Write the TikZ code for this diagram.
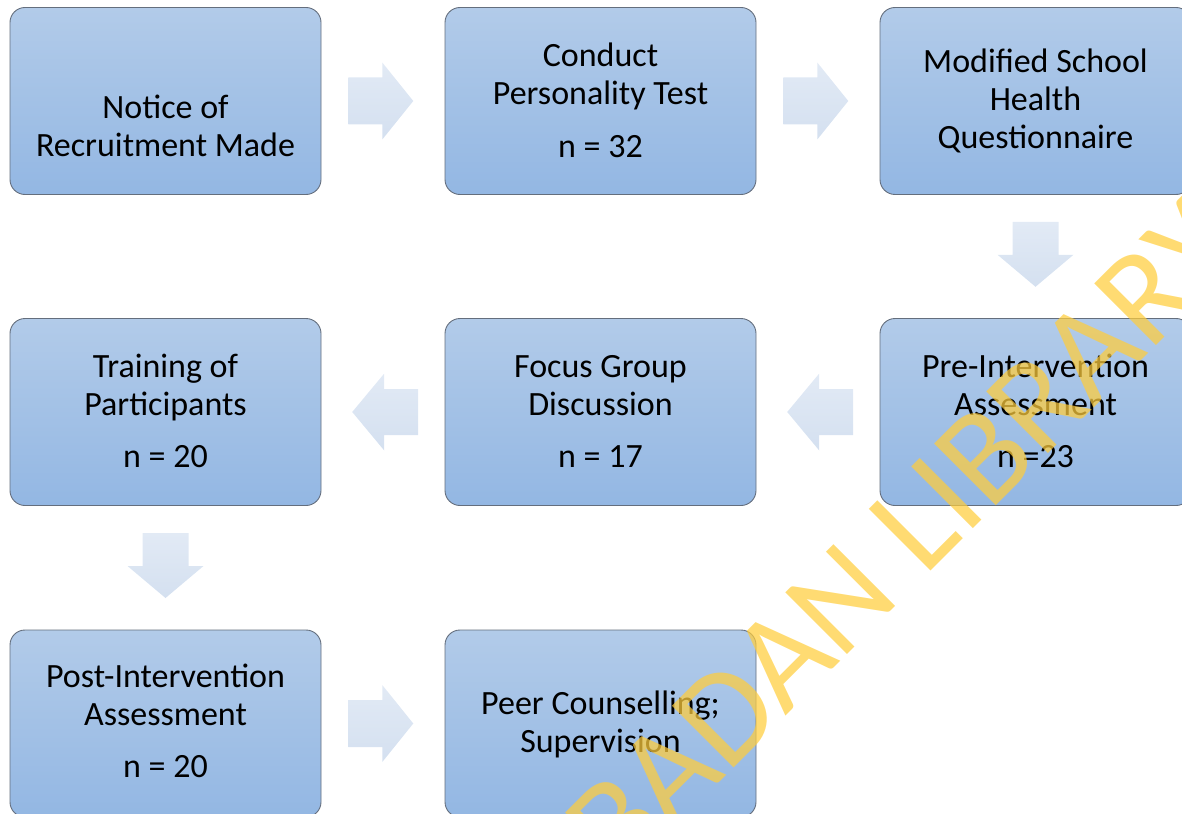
\documentclass[tikz,border=0pt]{standalone}
\usepackage{fontspec}
\setmainfont{Carlito}
\usetikzlibrary{calc}
\definecolor{boxtop}{RGB}{178,203,233}
\definecolor{boxbot}{RGB}{147,183,227}
\definecolor{boxline}{RGB}{100,110,125}
\definecolor{arrtop}{RGB}{226,234,245}
\definecolor{arrbot}{RGB}{212,224,240}
\definecolor{wmark}{RGB}{255,205,60}
\begin{document}
\begin{tikzpicture}[x=1pt,y=-1pt,
  stepbox/.style={draw=boxline, line width=0.9pt, rounded corners=15pt,
    top color=boxtop, bottom color=boxbot,
    minimum width=311pt, minimum height=187pt, inner sep=0pt, outer sep=0pt},
  boxtext/.style={anchor=north, inner sep=0pt, align=center,
    font=\fontsize{34}{38}\selectfont, text=black},
  arrshade/.style={top color=arrtop, bottom color=arrbot, draw=none},
  rarr/.pic={\shade[arrshade] (-32.5,-23.5) -- (1.5,-23.5) -- (1.5,-38.5) -- (32.5,0)
      -- (1.5,38.5) -- (1.5,23.5) -- (-32.5,23.5) -- cycle;},
  larr/.pic={\shade[arrshade] (33,-23) -- (-1,-23) -- (-1,-38.5) -- (-33,0)
      -- (-1,38.5) -- (-1,23) -- (33,23) -- cycle;},
  darr/.pic={\shade[arrshade] (-23,-32.5) -- (-23,0.5) -- (-38,0.5) -- (0,32.5)
      -- (38,0.5) -- (23,0.5) -- (23,-32.5) -- cycle;},
  wmstyle/.style={font=\fontsize{136}{136}\selectfont, text=wmark,
    text opacity=0.72, rotate=45, anchor=base west, inner sep=0pt}
]
\useasboundingbox (0,0) rectangle (1182,813);
\clip (0,0) rectangle (1182,813);

% boxes
\node[stepbox] (b1) at (165.5,101) {};
\node[stepbox] (b2) at (600.5,101) {};
\node[stepbox] (b3) at (1035.5,101) {};
\node[stepbox] (b4) at (1035.5,412) {};
\node[stepbox] (b5) at (600.5,412) {};
\node[stepbox] (b6) at (165.5,412) {};
\node[stepbox] (b7) at (165.5,723.5) {};
\node[stepbox] (b8) at (600.5,723.5) {};

% texts
\node[boxtext] (t1) at ($(b1.north)+(0,84)$) {\strut Notice of\\\strut Recruitment Made};
\node[boxtext] (t2) at ($(b2.north)+(0,32)$) {\strut Conduct\\\strut Personality Test\\[15pt]\strut n = 32};
\node[boxtext] (t3) at ($(b3.north)+(0,38)$) {\strut Modified School\\\strut Health\\\strut Questionnaire};
\node[boxtext] (t4) at ($(b4.north)+(0,32)$) {\strut Pre-Intervention\\\strut Assessment\\[14pt]\strut n =23};
\node[boxtext] (t5) at ($(b5.north)+(0,32)$) {\strut Focus Group\\\strut Discussion\\[14pt]\strut n = 17};
\node[boxtext] (t6) at ($(b6.north)+(0,32)$) {\strut Training of\\\strut Participants\\[14pt]\strut n = 20};
\node[boxtext] (t7) at ($(b7.north)+(0,30.5)$) {\strut Post-Intervention\\\strut Assessment\\[14pt]\strut n = 20};
\node[boxtext] (t8) at ($(b8.north)+(0,57.5)$) {\strut Peer Counselling;\\\strut Supervision};

% block arrows
\pic at ($(b1.east)!0.482!(b2.west)$) {rarr};
\pic at ($(b2.east)!0.482!(b3.west)$) {rarr};
\pic at ($(b3.south)!0.482!(b4.north)$) {darr};
\pic at ($(b4.west)!0.482!(b5.east)$) {larr};
\pic at ($(b5.west)!0.482!(b6.east)$) {larr};
\pic at ($(b6.south)!0.482!(b7.north)$) {darr};
\pic at ($(b7.east)!0.482!(b8.west)$) {rarr};

% watermark
\node[wmstyle] (wm) at (596,906) {IBADAN LIBRARY};
\end{tikzpicture}
\end{document}
